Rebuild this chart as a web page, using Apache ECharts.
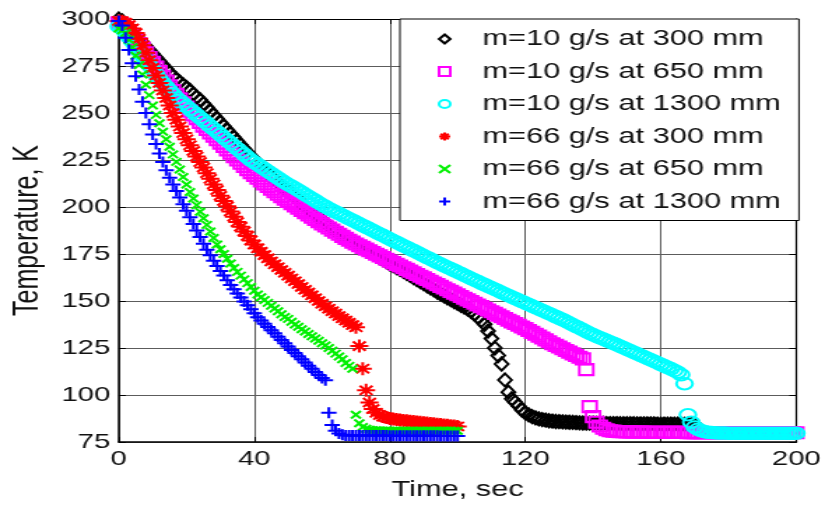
<!DOCTYPE html>
<html>
<head>
<meta charset="utf-8">
<title>Temperature vs time</title>
<script src="https://cdn.jsdelivr.net/npm/echarts@6.0.0/dist/echarts.min.js"></script>
<style>
  html, body { margin: 0; padding: 0; background: #ffffff; overflow: hidden; }
  /* the figure is laid out at 590 px and widened to the 825 px frame */
  #chart { width: 590px; height: 508px; transform: scaleX(1.39831); transform-origin: 0 0; }
</style>
</head>
<body>
<div id="chart"></div>
<script>
// Logged temperatures, one sample per second starting at t = 0
const SAMPLE_STEP = 1;

const xTicks = { min: 0, max: 200, step: 40 };
const yTicks = { min: 75, max: 300, step: 25 };

const seriesNames = [
  'm=10 g/s at 300 mm',
  'm=10 g/s at 650 mm',
  'm=10 g/s at 1300 mm',
  'm=66 g/s at 300 mm',
  'm=66 g/s at 650 mm',
  'm=66 g/s at 1300 mm'
];

// m = 10 g/s, 300 mm (t = 0 .. 170 s)
const m10_300mm = [
  300, 299, 297, 295, 293, 291, 289, 287.5, 285.5, 283.5,
  281.5, 279.5, 277.5, 275.5, 273.5, 271.5, 269.5, 268, 266.5, 265,
  263.5, 262, 260, 258.5, 257, 255, 253, 251, 249, 247,
  245, 243, 241, 239, 237, 235, 233, 231, 229, 227,
  225.2, 223.4, 221.6, 219.8, 218, 216.3, 214.7, 213.1, 211.5, 209.9,
  208.3, 206.7, 205.1, 203.5, 201.9, 200.3, 198.8, 197.3, 195.8, 194.3,
  192.8, 191.4, 190, 188.6, 187.2, 185.8, 185.5, 184.2, 182.9, 181.6,
  180.3, 180.1, 178.9, 177.7, 176.5, 175.3, 174.2, 173.1, 172, 170.9,
  169.8, 168.8, 167.8, 166.8, 165.8, 164.7, 163.6, 162.5, 161.4, 160.3,
  159.2, 158.1, 157, 155.9, 154.8, 153.7, 152.7, 151.7, 150.7, 149.7,
  148.7, 147.7, 146.7, 145.7, 144.5, 143, 141.4, 139.6, 137.6, 134,
  130, 125, 121, 116.5, 108, 101.5, 98, 96.2, 94.2, 92,
  90.5, 89.4, 88.5, 87.8, 87.3, 86.9, 86.6, 86.3, 86.1, 85.9,
  85.8, 85.7, 85.6, 85.5, 85.4, 85.3, 85.2, 85.1, 85, 85,
  85, 84.9, 84.9, 84.9, 84.8, 84.8, 84.8, 84.8, 84.7, 84.7,
  84.7, 84.7, 84.7, 84.6, 84.6, 84.6, 84.6, 84.6, 84.6, 84.5,
  84.5, 84.5, 84.5, 84.5, 84.5, 84.5, 84.4, 84.4, 84.4, 84.4,
  84.4
];

// m = 10 g/s, 650 mm (t = 0 .. 200 s)
const m10_650mm = [
  298, 297, 295.5, 293.5, 291.5, 289.5, 287, 284.5, 282, 279.5,
  277, 274.5, 272, 269.5, 267, 264.5, 262, 259.8, 257.6, 255.4,
  253.2, 251, 249, 247, 245, 243, 241.2, 239.4, 237.6, 235.8,
  234, 232.2, 230.4, 228.6, 226.8, 225, 223.3, 221.6, 219.9, 218.3,
  216.8, 215.3, 213.8, 212.3, 210.9, 209.5, 208.1, 206.8, 205.5, 204.2,
  203, 201.8, 200.6, 199.4, 198.2, 197, 195.8, 194.6, 193.4, 192.2,
  191, 189.9, 188.8, 187.7, 186.6, 185.5, 184.4, 183.3, 182.3, 181.3,
  180.3, 179.4, 178.5, 177.6, 176.7, 175.8, 174.9, 174, 173.1, 172.2,
  171.3, 170.4, 169.5, 168.6, 167.7, 166.8, 165.9, 165, 164.1, 163.2,
  162.3, 161.4, 160.5, 159.6, 158.7, 157.8, 156.9, 156, 155.1, 154.2,
  153.3, 152.4, 151.5, 150.6, 149.7, 148.8, 147.9, 147, 146.1, 145.2,
  144.3, 143.4, 142.5, 141.6, 140.7, 139.8, 138.9, 138, 137.1, 136.2,
  135.3, 134.3, 133.3, 132.3, 131.3, 130.3, 129.3, 128.3, 127.3, 126.4,
  125.5, 124.6, 123.7, 122.8, 121.9, 121, 120.1, 119.2, 113.5, 93.8,
  88.5, 85.5, 83.5, 82.3, 81.5, 81, 80.8, 80.6, 80.5, 80.5,
  80.4, 80.4, 80.3, 80.3, 80.3, 80.3, 80.2, 80.2, 80.2, 80.2,
  80.2, 80.1, 80.1, 80.1, 80.1, 80.1, 80.1, 80.1, 80, 80,
  80, 80, 80, 80, 80, 80, 80, 80, 80, 80,
  80, 80, 79.9, 79.9, 79.9, 79.9, 79.9, 79.9, 79.9, 79.9,
  79.9, 79.9, 79.9, 79.9, 79.9, 79.9, 79.9, 79.9, 79.9, 79.9,
  79.9
];

// m = 10 g/s, 1300 mm (t = 0 .. 200 s)
const m10_1300mm = [
  296, 295, 293, 290.5, 288, 285.5, 283, 280.5, 278, 275.5,
  273, 270.5, 268, 266, 264, 262, 260, 258, 256.5, 255,
  253.5, 252, 250.5, 249, 247.5, 246, 244.5, 243, 241.5, 240,
  238.5, 237, 235.5, 234, 232.5, 231, 229.5, 228, 226.5, 225,
  223.8, 222.6, 221.4, 220.2, 219, 217.8, 216.6, 215.4, 214.2, 213,
  212, 211, 210, 208.9, 207.8, 206.7, 205.6, 204.5, 203.4, 202.3,
  201.2, 200.2, 199.2, 198.3, 197.4, 196.5, 195.6, 194.7, 193.8, 192.9,
  192, 191.1, 190.2, 189.3, 188.4, 187.5, 186.6, 185.7, 184.8, 183.9,
  183, 182.1, 181.2, 180.3, 179.4, 178.6, 177.7, 176.8, 175.9, 175,
  174.1, 173.2, 172.3, 171.4, 170.5, 169.7, 168.8, 168, 167.1, 166.3,
  165.4, 164.6, 163.7, 162.9, 162, 161.2, 160.4, 159.5, 158.7, 157.9,
  157, 156.2, 155.4, 154.5, 153.7, 152.9, 152.1, 151.3, 150.5, 149.7,
  148.9, 148.1, 147.3, 146.5, 145.7, 144.9, 144.1, 143.3, 142.5, 141.7,
  140.9, 140.1, 139.2, 138.3, 137.4, 136.5, 135.6, 134.7, 133.8, 132.9,
  132, 131.3, 130.5, 129.8, 129, 128.2, 127.5, 126.7, 125.9, 125.1,
  124.3, 123.5, 122.7, 121.9, 121.1, 120.3, 119.5, 118.7, 117.9, 117.1,
  116.3, 115.5, 114.7, 113.9, 113, 112.1, 110.8, 106, 89.5, 85.5,
  83, 81.8, 81, 80.5, 80.2, 80, 79.9, 79.8, 79.8, 79.8,
  79.7, 79.7, 79.7, 79.7, 79.7, 79.7, 79.7, 79.7, 79.7, 79.7,
  79.7, 79.6, 79.6, 79.6, 79.6, 79.6, 79.6, 79.6, 79.6, 79.6,
  79.6
];

// m = 66 g/s, 300 mm (t = 0 .. 100 s)
const m66_300mm = [
  299, 298.8, 298, 296.8, 295, 292.5, 289.5, 286, 282, 278,
  274, 270, 266, 262, 258, 254, 250, 246.4, 242.8, 239.3,
  236, 232.8, 229.8, 226.8, 223.9, 221, 218, 215, 212, 209,
  206, 203.2, 200.4, 197.6, 194.8, 192, 189.5, 187, 184.6, 182.2,
  180, 178, 176.2, 174.4, 172.7, 171, 169.5, 168, 166.5, 165,
  163.5, 162, 160.5, 159, 157.5, 156, 154.5, 153, 151.5, 150,
  148.5, 147.2, 145.9, 144.6, 143.3, 142, 140.8, 139.6, 138.4, 137.2,
  136, 126, 114, 102.5, 96, 92.5, 90.5, 89.3, 88.5, 88,
  87.5, 87.2, 87, 86.7, 86.5, 86.3, 86.1, 85.9, 85.7, 85.5,
  85.3, 85.1, 84.9, 84.7, 84.5, 84.3, 84.1, 83.9, 83.7, 83.5,
  83.3
];

// m = 66 g/s, 650 mm (t = 0 .. 100 s)
const m66_650mm = [
  295, 294, 292.5, 289, 285, 280.5, 275.5, 270.5, 265, 259.5,
  254, 249, 244.5, 240, 236, 232, 228, 224, 220, 216,
  212, 208, 204.5, 201, 197.5, 194, 190.5, 187, 183.5, 180,
  177.5, 175, 172.5, 170, 167.5, 165.5, 163.5, 161.5, 159.5, 157.5,
  155.5, 153.5, 152, 150.5, 149, 147.5, 146, 144.5, 143, 141.5,
  140.5, 139, 137.5, 136.3, 135, 133.8, 132.5, 131.3, 130, 128.8,
  127.5, 126.3, 125, 123.5, 122, 120.5, 119, 117, 115.5, 114,
  89.5, 85, 83, 82, 81.5, 81.3, 81.2, 81.1, 81, 81,
  81, 81, 81, 81, 81, 81, 81, 81, 81, 81,
  81, 81, 81, 81, 81, 81, 81, 81, 81, 81,
  81
];

// m = 66 g/s, 1300 mm (t = 0 .. 100 s)
const m66_1300mm = [
  299, 296.5, 290, 283.5, 276.5, 269.5, 262.5, 256, 250, 244,
  238.5, 233.5, 228.5, 224, 219.5, 215.5, 212, 208.5, 205, 201.5,
  198, 194.5, 191, 187.5, 184, 180.5, 177.3, 174.3, 171.4, 168.6,
  166, 163.5, 161, 158.5, 156.2, 154, 151.9, 149.8, 147.7, 145.6,
  143.5, 141.4, 139.6, 137.9, 136.2, 134.5, 132.8, 131, 129.3, 127.5,
  125.8, 124, 122.3, 120.6, 119, 117.3, 115.6, 114, 112.3, 110.7,
  109, 107.8, 90.5, 84, 81, 79.5, 78.8, 78.5, 78.5, 78.4,
  78.4, 78.4, 78.4, 78.4, 78.4, 78.4, 78.4, 78.4, 78.4, 78.4,
  78.3, 78.3, 78.3, 78.3, 78.3, 78.3, 78.3, 78.3, 78.3, 78.3,
  78.3, 78.3, 78.3, 78.3, 78.3, 78.2, 78.2, 78.2, 78.2, 78.2,
  78.2
];

const seriesValues = [m10_300mm, m10_650mm, m10_1300mm, m66_300mm, m66_650mm, m66_1300mm];

// marker per series: hollow diamond, square, circle, then asterisk, x and plus
const markers = [
  { symbol: 'diamond', size: [9.5, 13], color: '#000000' },
  { symbol: 'rect', size: [10, 11], color: '#ff00ff' },
  { symbol: 'circle', size: 11.5, color: '#00ffff' },
  { symbol: 'path://M0,5H10M5,0V10M1.5,1.5L8.5,8.5M8.5,1.5L1.5,8.5', size: 13, color: '#ff0000' },
  { symbol: 'path://M0,0L10,10M10,0L0,10', size: [7, 7.5], color: '#00f000' },
  { symbol: 'path://M0,5H10M5,0V10', size: 11, color: '#0000ff' }
];

const FONT = '"Liberation Sans", Arial, Helvetica, sans-serif';
const TEXT_COLOR = '#111111';
const GRID_COLOR = '#5c5c5c';

function toPoints(values) {
  return values.map((v, i) => [i * SAMPLE_STEP, v]);
}

const series = seriesNames.map((name, k) => ({
  type: 'scatter',
  name: name,
  data: toPoints(seriesValues[k]),
  symbol: markers[k].symbol,
  symbolSize: markers[k].size,
  itemStyle: {
    color: 'rgba(0,0,0,0)',
    borderColor: markers[k].color,
    borderWidth: 2,
    opacity: 1
  },
  emphasis: { disabled: true },
  silent: true,
  animation: false,
  z: 2 + k * 0.01
}));

function frameAxis(position, extent) {
  return {
    type: 'value',
    position: position,
    min: extent.min,
    max: extent.max,
    interval: extent.step,
    axisLine: { show: true, onZero: false, lineStyle: { color: '#000000', width: 1.2 } },
    axisTick: { show: true, inside: true, length: 5, lineStyle: { color: '#000000', width: 1 } },
    axisLabel: { show: false },
    splitLine: { show: false }
  };
}

const chart = echarts.init(document.getElementById('chart'), null, { renderer: 'canvas' });

chart.setOption({
  backgroundColor: '#ffffff',
  animation: false,
  grid: { left: 80, right: 20, top: 19, bottom: 66, containLabel: false },
  legend: {
    orient: 'vertical',
    left: 286,
    top: 19,
    padding: [9, 13, 8, 27],
    itemWidth: 8,
    itemHeight: 9,
    itemGap: 10.5,
    backgroundColor: '#ffffff',
    borderColor: '#000000',
    borderWidth: 1,
    borderRadius: 0,
    selectedMode: false,
    textStyle: { fontFamily: FONT, fontSize: 22, color: TEXT_COLOR, padding: [0, 0, 0, 18] },
    data: seriesNames
  },
  xAxis: [
    {
      type: 'value',
      position: 'bottom',
      min: xTicks.min,
      max: xTicks.max,
      interval: xTicks.step,
      name: 'Time, sec',
      nameLocation: 'middle',
      nameGap: 37,
      nameTextStyle: { fontFamily: FONT, fontSize: 22, color: TEXT_COLOR },
      axisLine: { show: true, onZero: false, lineStyle: { color: '#000000', width: 1.5 } },
      axisTick: { show: true, inside: true, length: 5, lineStyle: { color: '#000000' } },
      axisLabel: { fontFamily: FONT, fontSize: 21, color: TEXT_COLOR, margin: 7 },
      splitLine: { show: true, lineStyle: { color: GRID_COLOR, width: 1 } }
    },
    frameAxis('top', xTicks)
  ],
  yAxis: [
    {
      type: 'value',
      position: 'left',
      min: yTicks.min,
      max: yTicks.max,
      interval: yTicks.step,
      name: 'Temperature, K',
      nameLocation: 'middle',
      nameGap: 50,
      nameTextStyle: { fontFamily: FONT, fontSize: 25, color: TEXT_COLOR },
      axisLine: { show: true, onZero: false, lineStyle: { color: '#000000', width: 1.5 } },
      axisTick: { show: true, inside: true, length: 5, lineStyle: { color: '#000000' } },
      axisLabel: { fontFamily: FONT, fontSize: 21, color: TEXT_COLOR, margin: 6 },
      splitLine: { show: true, lineStyle: { color: GRID_COLOR, width: 1 } }
    },
    frameAxis('right', yTicks)
  ],
  series: series
});
</script>
</body>
</html>
